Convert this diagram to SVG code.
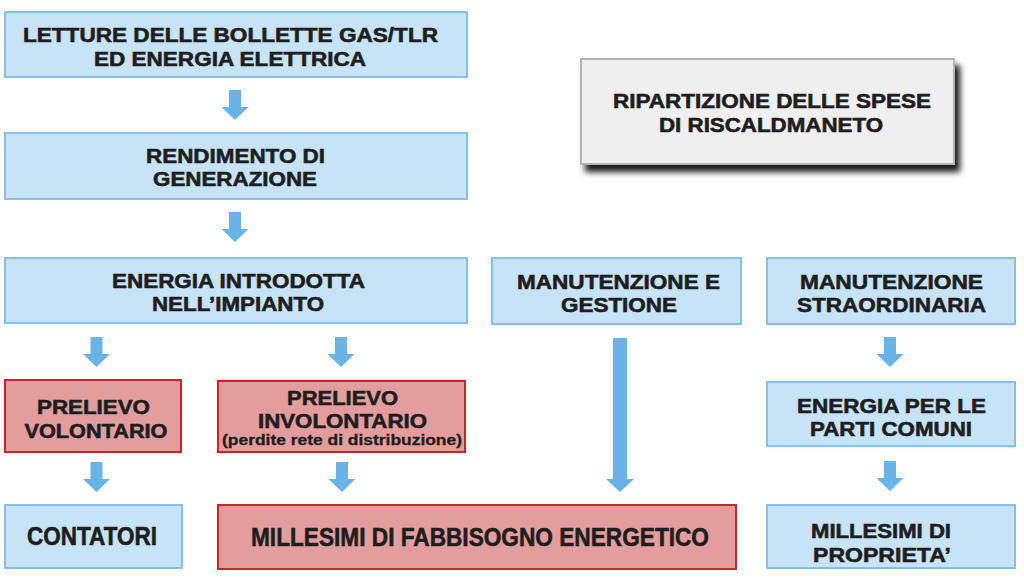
<svg xmlns="http://www.w3.org/2000/svg" width="1024" height="583" viewBox="0 0 1024 583">
<defs>
<style>
.b{fill:#c6e3f8;stroke:#86c0e8;stroke-width:2}
.r{fill:#e49d9d;stroke:#c3272d;stroke-width:2}
.g{fill:#efefef;stroke:#b4b4b4;stroke-width:2}
text{font-family:"Liberation Sans",Arial,sans-serif;font-weight:bold;font-size:20.5px;fill:#1e1e1e;stroke:#1e1e1e;stroke-width:0.6px;text-anchor:middle}
.c{font-size:25px}
.s{font-size:15px;stroke-width:0.3px}
.a{fill:#69b3e7}
</style>
<filter id="sh" x="-10%" y="-20%" width="130%" height="150%">
<feDropShadow dx="5" dy="7" stdDeviation="3" flood-color="#000" flood-opacity="0.9"/>
</filter>
<path id="arr" d="M-6,0 H6 V17 H13.5 L0,30 L-13.5,17 H-6 Z"/>
</defs>
<g id="n-letture"><rect class="b" x="5" y="12" width="462" height="65"/>
<text x="230.5" y="42" textLength="415" lengthAdjust="spacingAndGlyphs">LETTURE DELLE BOLLETTE GAS/TLR</text>
<text x="230" y="66" textLength="272" lengthAdjust="spacingAndGlyphs">ED ENERGIA ELETTRICA</text></g>
<g id="n-rendimento"><rect class="b" x="5" y="133" width="462" height="66"/>
<text x="235.5" y="163" textLength="179" lengthAdjust="spacingAndGlyphs">RENDIMENTO DI</text>
<text x="235" y="186" textLength="164" lengthAdjust="spacingAndGlyphs">GENERAZIONE</text></g>
<g id="n-ripartizione"><rect class="g" x="581" y="59" width="373" height="105" filter="url(#sh)"/>
<text x="772" y="108" textLength="318" lengthAdjust="spacingAndGlyphs">RIPARTIZIONE DELLE SPESE</text>
<text x="771" y="132" textLength="224" lengthAdjust="spacingAndGlyphs">DI RISCALDMANETO</text></g>
<g id="n-energia"><rect class="b" x="5" y="258" width="462" height="65"/>
<text x="238.5" y="288" textLength="253" lengthAdjust="spacingAndGlyphs">ENERGIA INTRODOTTA</text>
<text x="238" y="311" textLength="172" lengthAdjust="spacingAndGlyphs">NELL’IMPIANTO</text></g>
<g id="n-manutenzione"><rect class="b" x="492" y="258" width="249" height="66"/>
<text x="618.5" y="289" textLength="203" lengthAdjust="spacingAndGlyphs">MANUTENZIONE E</text>
<text x="619" y="312" textLength="116" lengthAdjust="spacingAndGlyphs">GESTIONE</text></g>
<g id="n-straordinaria"><rect class="b" x="767" y="258" width="248" height="66"/>
<text x="891.5" y="289" textLength="183" lengthAdjust="spacingAndGlyphs">MANUTENZIONE</text>
<text x="891.5" y="312" textLength="189" lengthAdjust="spacingAndGlyphs">STRAORDINARIA</text></g>
<g id="n-volontario"><rect class="r" x="5" y="380" width="176" height="72"/>
<text x="93.5" y="414" textLength="113" lengthAdjust="spacingAndGlyphs">PRELIEVO</text>
<text x="96" y="438" textLength="143" lengthAdjust="spacingAndGlyphs">VOLONTARIO</text></g>
<g id="n-involontario"><rect class="r" x="218" y="381" width="247" height="71"/>
<text x="342.5" y="405" textLength="111" lengthAdjust="spacingAndGlyphs">PRELIEVO</text>
<text x="342.5" y="428" textLength="169" lengthAdjust="spacingAndGlyphs">INVOLONTARIO</text>
<text class="s" x="342" y="445" textLength="240" lengthAdjust="spacingAndGlyphs">(perdite rete di distribuzione)</text></g>
<g id="n-particomuni"><rect class="b" x="767" y="382" width="248" height="64"/>
<text x="891.5" y="413" textLength="189" lengthAdjust="spacingAndGlyphs">ENERGIA PER LE</text>
<text x="891" y="436" textLength="162" lengthAdjust="spacingAndGlyphs">PARTI COMUNI</text></g>
<g id="n-contatori"><rect class="b" x="5" y="505" width="177" height="63"/>
<text class="c" x="92" y="545" textLength="130" lengthAdjust="spacingAndGlyphs">CONTATORI</text></g>
<g id="n-fabbisogno"><rect class="r" x="218" y="505" width="518" height="64"/>
<text class="c" x="480" y="546" textLength="458" lengthAdjust="spacingAndGlyphs">MILLESIMI DI FABBISOGNO ENERGETICO</text></g>
<g id="n-proprieta"><rect class="b" x="767" y="505" width="248" height="63"/>
<text x="881" y="538" textLength="140" lengthAdjust="spacingAndGlyphs">MILLESIMI DI</text>
<text x="882" y="562" textLength="138" lengthAdjust="spacingAndGlyphs">PROPRIETA’</text></g>
<g id="connectors" class="a">
<use href="#arr" x="235" y="90"/>
<use href="#arr" x="235" y="212"/>
<use href="#arr" x="96.5" y="337"/>
<use href="#arr" x="341" y="337"/>
<use href="#arr" x="890" y="337"/>
<use href="#arr" x="96.5" y="462"/>
<use href="#arr" x="342" y="462"/>
<use href="#arr" x="890" y="461"/>
<path d="M613,338 H627 V479 H634 L620,492 L606,479 H613 Z"/>
</g>
</svg>
